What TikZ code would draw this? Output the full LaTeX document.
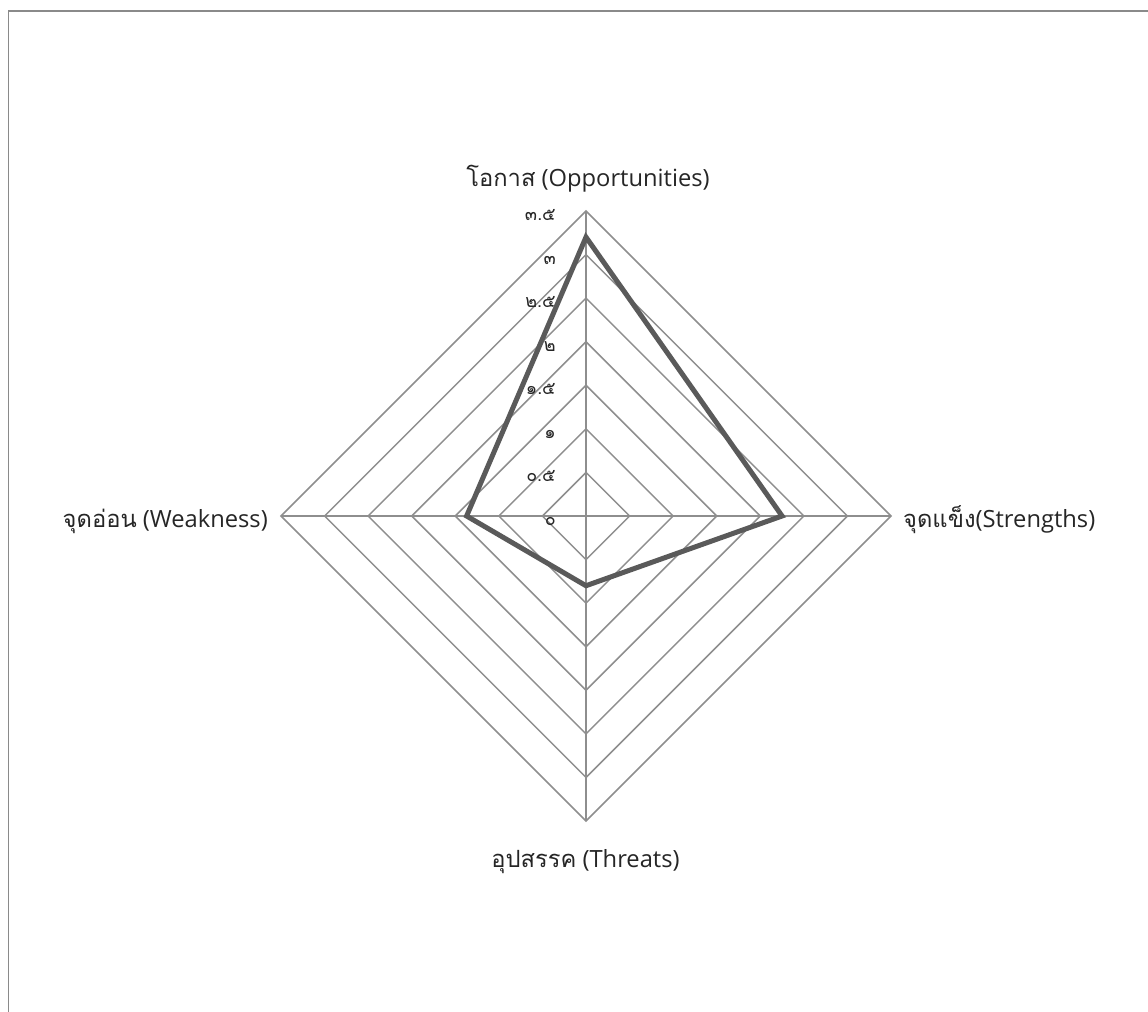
\documentclass[tikz,border=0pt]{standalone}
\usepackage{fontspec}
\setmainfont{Open Sans}
\newfontfamily\thaifont[Script=Thai]{Loma}
\definecolor{gridgray}{HTML}{8E8E8E}
\definecolor{seriesgray}{HTML}{5A5A5A}
\definecolor{framegray}{HTML}{8A8A8A}
\definecolor{textdark}{HTML}{262626}
\begin{document}
\begin{tikzpicture}[x=1bp,y=-1bp,
  gridline/.style={draw=gridgray, line width=1.5bp},
  frameline/.style={draw=framegray, line width=1.6bp},
  series/.style={draw=seriesgray, line width=5bp, line join=miter},
  axislabel/.style={font=\fontsize{23.8}{28}\selectfont, text=textdark, inner sep=0pt},
  ticklabel/.style={font=\thaifont\fontsize{18}{21}\selectfont, text=textdark, inner sep=0pt, anchor=base east}]
\useasboundingbox (0,0) rectangle (1148,1012);
% frame
\coordinate (fb) at (8.5,1015);
\coordinate (fc) at (8.5,11);
\coordinate (fr) at (1150,11);
\draw[frameline] (fb) -- (fc) -- (fr);
% chart
\begin{scope}[shift={(586,516)}]
  \coordinate (C) at (0,0);
  \coordinate (O) at (0,-305);
  \coordinate (S) at (305,0);
  \coordinate (T) at (0,305);
  \coordinate (W) at (-305,0);
  \foreach \k in {1,...,7}{
    \pgfmathsetmacro\r{\k*305/7}
    \draw[gridline] (0,-\r) -- (\r,0) -- (0,\r) -- (-\r,0) -- cycle;
  }
  \draw[gridline] (C) -- (O);
  \draw[gridline] (C) -- (S);
  \draw[gridline] (C) -- (T);
  \draw[gridline] (C) -- (W);
  % tick labels
  \foreach \v/\t [count=\i from 0] in {0/๐,0.5/๐.๕,1/๑,1.5/๑.๕,2/๒,2.5/๒.๕,3/๓,3.5/๓.๕}{
    \node[ticklabel] (tick\i) at (-30,{-\v*305/3.5+9.5}) {\t};
  }
  % data series
  \coordinate (dO) at (0,{-3.2*305/3.5});
  \coordinate (dS) at ({2.25*305/3.5},0);
  \coordinate (dT) at (0,{0.8*305/3.5});
  \coordinate (dW) at ({-1.37*305/3.5},0);
  \draw[series] (dO) -- (dS) -- (dT) -- (dW) -- cycle;
\end{scope}
% axis labels
\node[axislabel, anchor=base] (lO) at (588,186) {{\thaifont โอกาส} (Opportunities)};
\node[axislabel, anchor=base west] (lS) at (903,527) {{\thaifont จุดแข็ง}(Strengths)};
\node[axislabel, anchor=base east] (lW) at (268,527) {{\thaifont จุดอ่อน} (Weakness)};
\node[axislabel, anchor=base] (lT) at (585.5,867) {{\thaifont อุปสรรค} (Threats)};
\end{tikzpicture}
\end{document}
